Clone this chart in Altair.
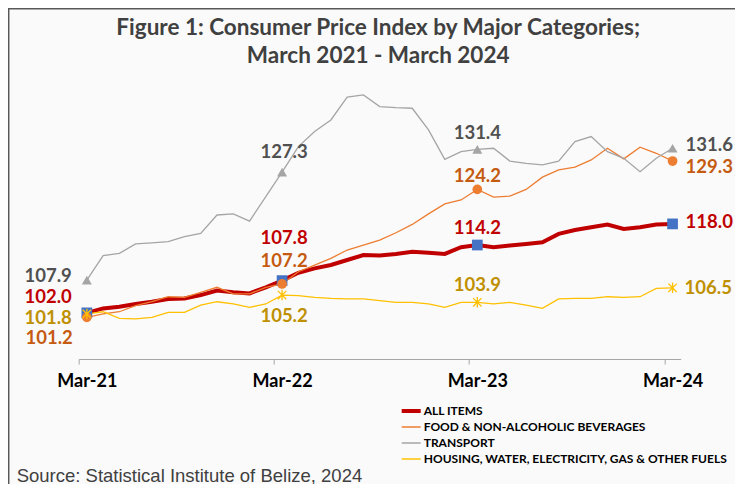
import altair as alt
import pandas as pd

# ---------------- data ----------------
months = [d.strftime("%b-%y") for d in pd.date_range("2021-03-01", "2024-03-01", freq="MS")]
series_names = [
    "ALL ITEMS",
    "FOOD & NON-ALCOHOLIC BEVERAGES",
    "TRANSPORT",
    "HOUSING, WATER, ELECTRICITY, GAS & OTHER FUELS",
]
all_items = [102.0, 102.8, 103.1, 103.6, 104.0, 104.5, 104.6, 105.2, 106.0, 105.7, 105.5, 106.6,
             107.8, 109.2, 110.0, 110.6, 111.5, 112.4, 112.3, 112.6, 113.0, 112.8, 112.6, 113.8,
             114.2, 113.8, 114.1, 114.4, 114.7, 116.2, 116.9, 117.4, 117.9, 117.1, 117.4, 117.9,
             118.0]
food = [101.2, 101.8, 102.2, 103.3, 104.0, 104.9, 104.8, 105.7, 106.6, 105.4, 105.4, 106.6,
        107.2, 109.4, 110.6, 111.8, 113.3, 114.2, 115.1, 116.4, 117.9, 119.8, 121.6, 122.3,
        124.2, 122.8, 123.0, 124.2, 126.4, 127.7, 128.2, 129.5, 131.6, 129.7, 131.8, 130.7,
        129.3]
transport = [107.9, 112.3, 112.7, 114.4, 114.6, 114.8, 115.7, 116.3, 119.6, 119.8, 118.5, 122.9,
             127.3, 131.9, 134.6, 136.7, 140.8, 141.2, 139.1, 138.9, 138.8, 134.9, 129.6, 131.0,
             131.4, 131.6, 129.3, 128.9, 128.6, 129.3, 132.8, 133.7, 131.0, 129.8, 127.4, 129.8,
             131.6]
housing = [101.8, 102.2, 101.0, 100.9, 101.2, 102.1, 102.1, 103.4, 104.0, 103.6, 103.0, 103.6,
           105.2, 105.1, 104.8, 104.6, 104.5, 104.5, 104.2, 103.9, 103.9, 103.6, 103.0, 103.9,
           103.9, 103.6, 103.9, 103.4, 102.8, 104.5, 104.6, 104.6, 104.9, 104.8, 104.9, 106.4,
           106.5]
tick_labels = ["Mar-21", "Mar-22", "Mar-23", "Mar-24"]
tick_idx = [0, 12, 24, 36]
title_lines = ["Figure 1: Consumer Price Index by Major Categories;", "March 2021 - March 2024"]
source_text = "Source: Statistical Institute of Belize, 2024"

# ---------------- styles ----------------
line_colors = ["#C00000", "#ED7D31", "#A5A5A5", "#FFC000"]
line_widths = [4, 1.3, 1.3, 1.3]
label_colors = ["#C00000", "#C55A11", "#505050", "#BF9000"]
ASTERISK = "M0,-1L0,1M-0.8,-0.8L0.8,0.8M-0.8,0.8L0.8,-0.8"
marker_styles = [
    dict(shape="square", filled=True, color="#4472C4", size=115, opacity=1),
    dict(shape="circle", filled=True, color="#ED7D31", size=95, opacity=1),
    dict(shape="triangle-up", filled=True, color="#A5A5A5", size=100, opacity=1),
    dict(shape=ASTERISK, filled=False, color="#FFC000", size=110, strokeWidth=1.3, opacity=1),
]
# label placement (align, dx, dy) per series per marked point
label_pos = {
    0: [("right", -15, -16), ("center", 2, -43), ("center", 0, -17), ("left", 13, -2)],
    1: [("right", -14, 21), ("center", 2, -23), ("center", 0, -13), ("left", 13, 6)],
    2: [("right", -15, -4), ("center", 2, -20), ("center", 0, -16), ("left", 13, -3)],
    3: [("right", -15, 4), ("center", 2, 21), ("center", 0, -17), ("left", 12, 0)],
}

rows = []
for s, vals in zip(series_names, [all_items, food, transport, housing]):
    for i, (m, v) in enumerate(zip(months, vals)):
        rows.append({"series": s, "idx": i, "month": m, "value": v})
df = pd.DataFrame(rows)

label_js = "[" + ",".join("'%s'" % t for t in tick_labels) + "]"
half = 602 / 37 / 2

x_enc = alt.X(
    "idx:Q",
    scale=alt.Scale(domain=[-0.5, 36.5], nice=False, zero=False),
    axis=alt.Axis(
        values=tick_idx, labelExpr=label_js + "[round(datum.value/12)]", title=None, grid=False,
        domainColor="#A6A6A6", tickColor="#A6A6A6", tickSize=5, tickOffset=-half,
        labelOffset=half, labelFlush=False, labelFont="Lato", labelFontWeight="bold",
        labelFontSize=18, labelColor="#000000", labelPadding=8,
    ),
)
y_enc = alt.Y("value:Q", scale=alt.Scale(domain=[93.7, 143.7], nice=False, zero=False), axis=None)

legend = alt.Legend(
    title=None, orient="none", legendX=321, legendY=322, symbolType="stroke", symbolSize=361,
    labelFont="Lato", labelFontWeight="bold", labelFontSize=12, labelColor="#000000",
    labelOffset=1, labelLimit=500, rowPadding=0, clipHeight=16,
)

lines = alt.Chart(df).mark_line().encode(
    x=x_enc, y=y_enc,
    color=alt.Color("series:N", scale=alt.Scale(domain=series_names, range=line_colors), legend=legend),
    strokeWidth=alt.StrokeWidth(
        "series:N", scale=alt.Scale(type="ordinal", domain=series_names, range=line_widths), legend=legend
    ),
)

layers = [lines]
marked = df[df["idx"].isin(tick_idx)]
for si, s in enumerate(series_names):
    sub = marked[marked["series"] == s]
    layers.append(alt.Chart(sub).mark_point(**marker_styles[si]).encode(x=x_enc, y=y_enc))
for si, s in enumerate(series_names):
    sub = marked[marked["series"] == s].reset_index(drop=True)
    for k in range(len(sub)):
        align, dx, dy = label_pos[si][k]
        layers.append(
            alt.Chart(sub.iloc[[k]]).mark_text(
                align=align, baseline="middle", dx=dx, dy=dy, font="Lato", fontWeight="bold",
                fontSize=18.5, color=label_colors[si],
            ).encode(x=x_enc, y=y_enc, text=alt.Text("value:Q", format=".1f"))
        )

# title (two lines) and source note
for line_text, ypos in zip(title_lines, [-53, -25]):
    layers.append(alt.Chart(pd.DataFrame({"t": [line_text]})).mark_text(
        align="center", baseline="middle", font="Lato", fontSize=22.5, fontWeight="bold", color="#404040"
    ).encode(text="t:N", x=alt.value(299.5), y=alt.value(ypos)))

layers.append(alt.Chart(pd.DataFrame({"t": [source_text]})).mark_text(
    align="left", baseline="alphabetic", font="Liberation Sans", fontSize=18.5, color="#404040"
).encode(text="t:N", x=alt.value(-62), y=alt.value(400.5)))

frame = pd.DataFrame({"a": [0]})
layers.append(alt.Chart(frame).mark_rule(color="#595959", strokeWidth=1.5).encode(
    x=alt.value(-70), y=alt.value(-73), y2=alt.value(403)))
layers.append(alt.Chart(frame).mark_rule(color="#595959", strokeWidth=1.5).encode(
    y=alt.value(-72.2), x=alt.value(-70.7), x2=alt.value(656.3)))

chart = alt.layer(*layers).properties(
    width=602, height=278,
    padding={"left": 70.7, "top": 73, "right": 54.3, "bottom": 125},
    autosize=alt.AutoSizeParams(type="none"),
    background="#FAFAFA",
).configure_view(stroke=None)

chart.save("out.html", embed_options={"renderer": "svg", "actions": False})
